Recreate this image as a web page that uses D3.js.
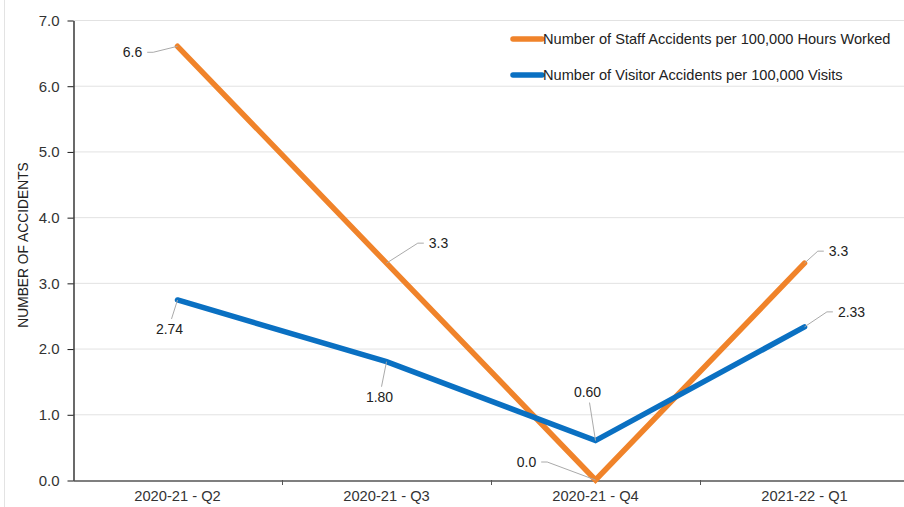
<!DOCTYPE html>
<html>
<head>
<meta charset="utf-8">
<script src="https://cdn.jsdelivr.net/npm/d3@7"></script>
<style>
  body { margin: 0; background: #fff; }
  svg { display: block; font-family: "Liberation Sans", Arial, sans-serif; }
</style>
</head>
<body>
<div id="main"></div>
<script>
const w = 904, h = 507;

const quarters = ['2020-21 - Q2', '2020-21 - Q3', '2020-21 - Q4', '2021-22 - Q1'];
const staffRate = [6.6, 3.3, 0.0, 3.3];
const visitorRate = [2.74, 1.80, 0.60, 2.33];
const yTicks = [0, 1, 2, 3, 4, 5, 6, 7];
const seriesNames = ['Number of Staff Accidents per 100,000 Hours Worked', 'Number of Visitor Accidents per 100,000 Visits'];

const colors = ['#f0832a', '#0a70c2'];

// where each data label sits relative to its point (dx, dy of the text centre)
const staffLabelPos = [[-45, 6], [52, -20], [-69, -18], [34, -12]];
const visitorLabelPos = [[-8, 29], [-7, 35], [-8, -48], [47, -15]];

const svg = d3.select('#main')
            .append('svg')
            .attr('width', w)
            .attr('height', h)

// faint frame line at the left
svg.append('line')
    .attr('x1', 4.5).attr('x2', 4.5)
    .attr('y1', 0).attr('y2', h)
    .attr('stroke', '#e3e3e3')

const xScale = d3.scaleBand()
                .domain(quarters)
                .range([73, 909])

const yScale = d3.scaleLinear()
                .domain([0, 7])
                .range([480, 20])

// gridlines
svg.append('g')
    .selectAll('line')
    .data(yTicks.slice(1))
    .enter()
    .append('line')
    .attr('x1', 73)
    .attr('x2', w)
    .attr('y1', d => yScale(d) + 0.5)
    .attr('y2', d => yScale(d) + 0.5)
    .attr('stroke', '#e2e2e2')
    .attr('stroke-width', 1)

const yAxis = d3.axisLeft(yScale)
                .tickValues(yTicks)
                .tickFormat(d3.format('.1f'))
                .tickSize(6)
                .tickSizeOuter(0)
                .tickPadding(8)

const yLine = svg.append('g')
                .attr('transform', 'translate(73.5,0.5)')
                .call(yAxis)
yLine.select('.domain').attr('stroke', '#1a1a1a').attr('stroke-width', 1.3)
yLine.selectAll('.tick line').attr('stroke', '#1a1a1a')
yLine.selectAll('.tick text').attr('font-size', 15).attr('fill', '#333')
    .attr('font-family', '"Liberation Sans", Arial, sans-serif')

const xAxis = d3.axisBottom(xScale)
                .tickSize(0)
                .tickPadding(10)
const xLine = svg.append('g')
                .attr('transform', 'translate(0,480.5)')
                .call(xAxis)
xLine.select('.domain').attr('stroke', '#555').attr('stroke-width', 1.3)
xLine.selectAll('.tick text').attr('font-size', 14.7).attr('fill', '#333')
    .attr('font-family', '"Liberation Sans", Arial, sans-serif')

// category boundary ticks
svg.append('g')
    .selectAll('line')
    .data(quarters.slice(1))
    .enter()
    .append('line')
    .attr('x1', d => xScale(d) + 0.5)
    .attr('x2', d => xScale(d) + 0.5)
    .attr('y1', 480)
    .attr('y2', 485)
    .attr('stroke', '#555')

svg.append('text')
    .text('NUMBER OF ACCIDENTS')
    .attr('transform', 'translate(28,245) rotate(-90)')
    .attr('text-anchor', 'middle')
    .attr('font-size', 13.8)
    .attr('fill', '#222')

const cx = q => xScale(q) + xScale.bandwidth() / 2
const line = d3.line()
                .x((d, i) => cx(quarters[i]))
                .y(d => yScale(d))

const series = [
    { values: staffRate, labels: staffLabelPos, fmt: d3.format('.1f') },
    { values: visitorRate, labels: visitorLabelPos, fmt: d3.format('.2f') }
]

series.forEach((s, k) => {
    svg.append('path')
        .datum(s.values)
        .attr('d', line)
        .attr('fill', 'none')
        .attr('stroke', colors[k])
        .attr('stroke-width', 5.5)
        .attr('stroke-linejoin', 'miter')
        .attr('stroke-linecap', 'round')
})

// data labels with leader lines
series.forEach((s, k) => {
    const g = svg.append('g')
    s.values.forEach((v, i) => {
        const px = cx(quarters[i]), py = yScale(v)
        const [dx, dy] = s.labels[i]
        const tx = px + dx, ty = py + dy
        const label = s.fmt(v)
        const halfW = label.length * 3.9
        const side = Math.abs(dx) > Math.abs(dy) * 1.2
        const pts = [[px, py]]
        if (side) {
            const ex = dx > 0 ? tx - halfW - 3 : tx + halfW + 3
            pts.push([ex + (dx > 0 ? -6 : 6), ty], [ex, ty])
        } else {
            pts.push([tx + (dx > 0 ? -2 : 2), dy > 0 ? ty - 10 : ty + 10])
        }
        g.append('path')
            .attr('d', d3.line()(pts))
            .attr('fill', 'none')
            .attr('stroke', '#aaa')
            .attr('stroke-width', 1)
        g.append('text')
            .text(label)
            .attr('x', tx)
            .attr('y', ty)
            .attr('dy', '0.35em')
            .attr('text-anchor', 'middle')
            .attr('font-size', 14)
            .attr('fill', '#222')
    })
})

// legend
const legend = svg.append('g')
                .attr('transform', 'translate(513,0)')
const legendRows = legend.selectAll('g')
                .data(seriesNames)
                .enter()
                .append('g')
                .attr('transform', (d, i) => 'translate(0,' + (39 + i * 36) + ')')
legendRows.append('line')
    .attr('x1', 0).attr('x2', 29)
    .attr('y1', 0).attr('y2', 0)
    .attr('stroke', (d, i) => colors[i])
    .attr('stroke-width', 5.5)
    .attr('stroke-linecap', 'round')
legendRows.append('text')
    .text(d => d)
    .attr('x', 30)
    .attr('dy', '0.35em')
    .attr('font-size', 14.6)
    .attr('fill', '#222')
</script>
</body>
</html>
